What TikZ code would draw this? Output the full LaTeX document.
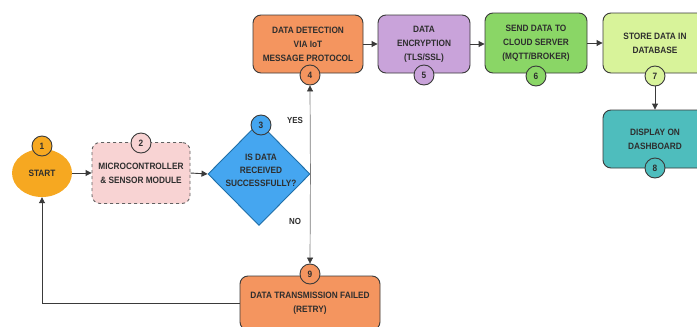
\documentclass[tikz,border=0pt]{standalone}
\usepackage{fontspec}
\setmainfont[FakeStretch=0.9]{Liberation Sans}
\usetikzlibrary{shapes.geometric,arrows.meta}
\definecolor{edge}{HTML}{3A3A3A}
\definecolor{txt}{HTML}{2E2E2E}
\definecolor{cstart}{HTML}{F6A821}
\definecolor{cpink}{HTML}{F8D3D3}
\definecolor{cblue}{HTML}{45A6F0}
\definecolor{cblueedge}{HTML}{1F6FA8}
\definecolor{corange}{HTML}{F4955F}
\definecolor{cpurple}{HTML}{C9A3DA}
\definecolor{cgreen}{HTML}{8AD666}
\definecolor{clime}{HTML}{D8F39A}
\definecolor{cteal}{HTML}{4EBDBD}
\definecolor{vline}{HTML}{7A7A7A}
\begin{document}
\begin{tikzpicture}[x=1pt,y=-1pt,
  box/.style={draw=edge, line width=0.9pt, rounded corners=8pt, align=center,
    font=\bfseries\fontsize{9.2}{14}\selectfont, text=txt, inner sep=0pt},
  badge/.style={circle, draw=edge, line width=0.9pt, minimum size=20pt, inner sep=0pt,
    font=\bfseries\fontsize{9.2}{10}\selectfont, text=txt},
  arr/.style={-{Triangle[length=6pt,width=6pt]}, line width=0.9pt, draw=edge},
  varr/.style={-{Triangle[length=6pt,width=6pt,color=edge]}, line width=0.7pt, draw=vline},
  lbl/.style={font=\bfseries\fontsize{8.8}{10}\selectfont, text=txt, inner sep=0pt}]
\useasboundingbox (0,0) rectangle (697,327);
\clip (0,0) rectangle (697,327);
\fill[white] (0,0) rectangle (697,327);

% nodes
\node[ellipse, fill=cstart, minimum width=60pt, minimum height=48pt, inner sep=0pt,
  font=\bfseries\fontsize{9.2}{10}\selectfont, text=txt] (n1) at (42,173) {START};
\node[box, dashed, draw=edge!80, fill=cpink, minimum width=98pt, minimum height=61pt] (n2) at (141,173)
  {MICROCONTROLLER\\\& SENSOR MODULE};
\node[diamond, draw=cblueedge, line width=0.9pt, fill=cblue, minimum width=102pt, minimum height=103pt,
  inner sep=0pt] (d3) at (259,174) {};
\node[align=center, font=\bfseries\fontsize{9.2}{13}\selectfont, text=txt, inner sep=0pt] (d3t) at (261,170)
  {IS DATA\\RECEIVED\\SUCCESSFULLY?};
\node[box, fill=corange, minimum width=110pt, minimum height=58pt] (n4) at (308,44)
  {DATA DETECTION\\VIA IoT\\MESSAGE PROTOCOL};
\node[box, fill=cpurple, minimum width=92pt, minimum height=58pt] (n5) at (424,44)
  {DATA\\ENCRYPTION\\(TLS/SSL)};
\node[box, fill=cgreen, minimum width=102pt, minimum height=60pt] (n6) at (536,43)
  {SEND DATA TO\\CLOUD SERVER\\(MQTT/BROKER)};
\node[box, fill=clime, minimum width=104pt, minimum height=60pt] (n7) at (655,43)
  {STORE DATA IN\\DATABASE};
\node[box, fill=cteal, minimum width=104pt, minimum height=58pt] (n8) at (655,139)
  {DISPLAY ON\\DASHBOARD};
\node[box, fill=corange, minimum width=140pt, minimum height=54pt] (n9) at (310,303)
  {DATA TRANSMISSION FAILED\\(RETRY)};

% badges
\node[badge, fill=cstart] (b1) at (42,146) {1};
\node[badge, fill=cpink] (b2) at (141,143) {2};
\node[badge, fill=cblue] (b3) at (261,125) {3};
\node[badge, fill=corange] (b4) at (310,75) {4};
\node[badge, fill=cpurple] (b5) at (424,75) {5};
\node[badge, fill=cgreen] (b6) at (536,76) {6};
\node[badge, fill=clime] (b7) at (655,76) {7};
\node[badge, fill=cteal] (b8) at (655,168) {8};
\node[badge, fill=corange] (b9) at (310,274) {9};

% labels
\node[lbl] (yes) at (295,120) {YES};
\node[lbl] (no) at (295,221) {NO};

% connectors
\draw[arr] (n1.east) -- (n2.west);
\draw[arr] (n2.east) -- (d3.west);
\draw[varr] (d3.east) -- (b4.south);
\draw[varr] (d3.east) -- (b9.north);
\draw[arr] (n4.east) -- (n5.west);
\draw[arr] (n5.east) -- (n5.east -| n6.west);
\draw[arr] (n6.east) -- (n7.west);
\draw[arr] (b7.south) -- (n8.north);
\draw[arr] (n9.west) -| (n1.south);
\end{tikzpicture}
\end{document}
